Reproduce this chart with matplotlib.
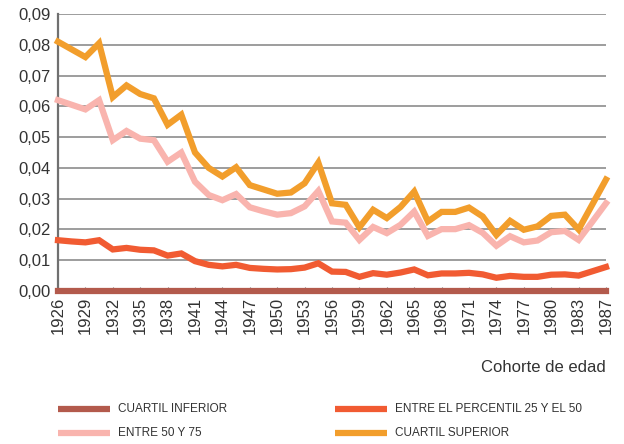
import matplotlib
matplotlib.use("Agg")
import matplotlib.pyplot as plt
from matplotlib.lines import Line2D
from matplotlib.ticker import FuncFormatter

# --- Datos (cohortes cada 1,5 años, etiquetas cada 3) ---
year_labels = ["1926", "1929", "1932", "1935", "1938", "1941", "1944", "1947",
               "1950", "1953", "1956", "1959", "1962", "1965", "1968", "1971",
               "1974", "1977", "1980", "1983", "1987"]

cuartil_inferior = [0.0] * 41

percentil_25_50 = [
    0.0165, 0.0161, 0.0158, 0.0165, 0.0135, 0.0140, 0.0134, 0.0132, 0.0115, 0.0122,
    0.0097, 0.0085, 0.0080, 0.0085, 0.0075, 0.0072, 0.0070, 0.0071, 0.0076, 0.0090,
    0.0063, 0.0062, 0.0046, 0.0058, 0.0053, 0.0060, 0.0070, 0.0051, 0.0057, 0.0057,
    0.0059, 0.0054, 0.0043, 0.0049, 0.0046, 0.0046, 0.0053, 0.0054, 0.0050, 0.0064,
    0.0078,
]

entre_50_75 = [
    0.0620, 0.0605, 0.0590, 0.0620, 0.0490, 0.0520, 0.0495, 0.0490, 0.0420, 0.0450,
    0.0355, 0.0312, 0.0295, 0.0315, 0.0272, 0.0259, 0.0248, 0.0253, 0.0275, 0.0325,
    0.0226, 0.0222, 0.0166, 0.0208, 0.0188, 0.0215, 0.0258, 0.0179, 0.0201, 0.0201,
    0.0214, 0.0189, 0.0147, 0.0178, 0.0158, 0.0164, 0.0191, 0.0195, 0.0166, 0.0225,
    0.0285,
]

cuartil_superior = [
    0.0810, 0.0785, 0.0760, 0.0805, 0.0630, 0.0668, 0.0640, 0.0626, 0.0540, 0.0573,
    0.0450, 0.0400, 0.0372, 0.0402, 0.0344, 0.0330, 0.0316, 0.0320, 0.0350, 0.0417,
    0.0285, 0.0280, 0.0207, 0.0264, 0.0237, 0.0273, 0.0323, 0.0226, 0.0257, 0.0257,
    0.0271, 0.0242, 0.0182, 0.0228, 0.0199, 0.0210, 0.0244, 0.0248, 0.0200, 0.0281,
    0.0362,
]

series_names = ["CUARTIL INFERIOR", "ENTRE EL PERCENTIL 25 Y EL 50",
                "ENTRE 50 Y 75", "CUARTIL SUPERIOR"]
series_colors = ["#B35A4C", "#F15B32", "#F9B4AE", "#F29E2C"]

TXT = "#333333"
plt.rcParams["font.family"] = ["Liberation Sans", "DejaVu Sans"]

W, H = 624, 444
fig = plt.figure(figsize=(W / 100, H / 100), dpi=100)
ax = fig.add_axes([58 / W, 1 - 291 / H, (606 - 58) / W, (291 - 14) / H])

x = list(range(len(cuartil_superior)))
all_series = [cuartil_inferior, percentil_25_50, entre_50_75, cuartil_superior]
for vals, name, col in zip(all_series, series_names, series_colors):
    ax.plot(x, vals, color=col, lw=4.5, solid_joinstyle="miter",
            clip_on=False, zorder=3)

ax.set_xlim(0, 40)
ax.set_ylim(0, 0.09)
ax.set_yticks([i / 100 for i in range(10)])
ax.yaxis.set_major_formatter(FuncFormatter(lambda v, p: f"{v:.2f}".replace(".", ",")))
ax.set_xticks(list(range(0, 41, 2)))
ax.set_xticklabels(year_labels, rotation=90)

ax.grid(axis="y", color="#8c8c8c", lw=1.2)
ax.set_axisbelow(True)
for s in ["top", "right", "bottom"]:
    ax.spines[s].set_visible(False)
ax.spines["left"].set_color("#707070")
ax.spines["left"].set_linewidth(1.6)

ax.tick_params(axis="y", length=0, pad=5, labelsize=12, labelcolor=TXT)
ax.tick_params(axis="x", direction="in", length=3, color="#707070",
               pad=4, labelsize=12, labelcolor=TXT)

fig.text(606 / W, 1 - 367 / H, "Cohorte de edad", ha="right", va="center",
         fontsize=12, color=TXT)

# leyenda manual en dos columnas
legend_order = [0, 1, 2, 3]
legend_pos = [(58, 409), (335, 409), (58, 433), (335, 433)]
for idx, (px, py) in zip(legend_order, legend_pos):
    yy = 1 - py / H
    fig.add_artist(Line2D([px / W, (px + 52) / W], [yy, yy],
                          transform=fig.transFigure, color=series_colors[idx],
                          lw=4.5, solid_capstyle="butt"))
    fig.text((px + 60) / W, yy, series_names[idx], ha="left", va="center",
             fontsize=8.5, color=TXT)

fig.savefig("out.png", dpi=100)
